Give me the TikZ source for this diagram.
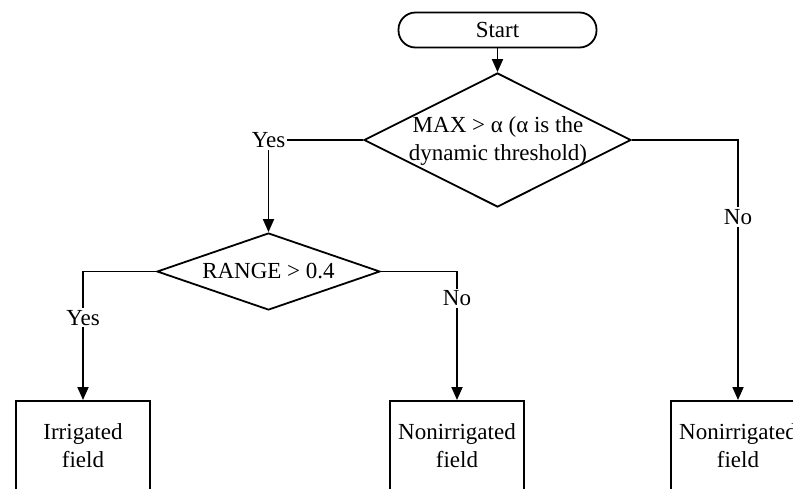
\documentclass[tikz,border=0pt]{standalone}
\usepackage{fontspec}
\setmainfont{Liberation Serif}
\usetikzlibrary{shapes.geometric,arrows.meta}
\begin{document}
\begin{tikzpicture}[x=1pt,y=-1pt,
  font=\fontsize{23}{28}\selectfont,
  line width=1.8pt,
  arr/.style={-{Triangle[length=13pt,width=11pt]}},
  startbox/.style={draw, rectangle, rounded corners=17pt, minimum width=198pt, minimum height=35pt, inner sep=0pt},
  decision/.style={draw, diamond, inner sep=0pt},
  txt/.style={align=center, inner sep=0pt},
  outbox/.style={draw, rectangle, minimum width=134pt, minimum height=90pt, inner sep=0pt, align=center},
  lbl/.style={fill=white, inner sep=2pt}]
\useasboundingbox (0,0) rectangle (793,488);
\clip (0,0) rectangle (793,488);

\node[startbox] (start) at (497.5,30) {Start};
\node[decision, minimum width=267pt, minimum height=134pt] (d1) at (497.5,140) {};
\node[txt] (d1t) at (498,141) {MAX > α (α is the\\dynamic threshold)};
\node[decision, minimum width=223pt, minimum height=77pt] (d2) at (268.5,271.5) {};
\node[txt] (d2t) at (d2) {RANGE > 0.4};
\node[outbox, anchor=north] (b1) at (83,400) {Irrigated\\field};
\node[outbox, anchor=north] (b2) at (457,400) {Nonirrigated\\field};
\node[outbox, anchor=north] (b3) at (738,400) {Nonirrigated\\field};

\draw[arr] (start.south) -- (d1.north);
\draw[arr] (d1.west) -| (d2.north) node[lbl, pos=0.5] (l1) {Yes};
\draw[arr] (d1.east) -| (b3.north) node[lbl, pos=0.648] (l2) {No};
\draw[arr] (d2.west) -| (b1.north) node[lbl, pos=0.68] (l3) {Yes};
\draw[arr] (d2.east) -| (b2.north) node[lbl, pos=0.605] (l4) {No};
\end{tikzpicture}
\end{document}
